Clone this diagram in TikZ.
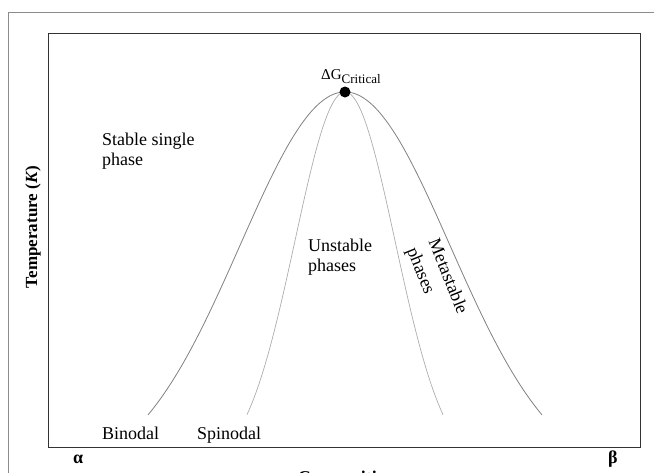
\documentclass[tikz,border=0pt]{standalone}
\usepackage{fontspec}
\setmainfont{Liberation Serif}
\begin{document}
\begin{tikzpicture}[x=1pt,y=-1pt,
  lbl/.style={inner sep=0pt, font=\fontsize{18}{20}\selectfont, align=left},
  boldlbl/.style={inner sep=0pt, font=\fontsize{18}{20}\selectfont\bfseries},
  binodal/.style={draw=black!50, line width=0.8pt},
  spinodal/.style={draw=black!32, line width=0.7pt}]
\useasboundingbox (0,0) rectangle (654,472);
\begin{scope}
\clip (0,0) rectangle (654,472);
% outer frame
\draw[black!45, line width=1pt] (8.5,480) -- (8.5,12.5) -- (660,12.5);
% inner frame
\draw[black!80, line width=1pt] (48.5,33.5) rectangle (640.5,447.5);
% curves
\draw[binodal] plot[domain=-197:197, samples=120, smooth] ({345+\x},{92+390*(1-exp(-0.5*(\x/105)^2))});
\draw[spinodal] plot[domain=-98:98, samples=100, smooth] ({345+\x},{92+378*(1-exp(-0.5*(\x/50)^2))});
\fill[black] (345,92) circle (5.5);
\node (crit) [inner sep=0pt, anchor=base west, font=\fontsize{15}{16}\selectfont] at (321,79) {ΔG\textsubscript{\fontsize{13}{14}\selectfont Critical}};
% labels
\node (stable) [lbl, anchor=base west] at (102,165) {Stable single\\phase};
\node (unstable) [lbl, anchor=base west] at (308,271) {Unstable\\phases};
\node (meta) [lbl, font=\fontsize{18}{23}\selectfont, anchor=north west, rotate=-68] at (440,237) {Metastable\\phases};
\node (bin) [lbl, anchor=base west] at (102,439) {Binodal};
\node (spin) [lbl, anchor=base west] at (197,439) {Spinodal};
\node (alpha) [boldlbl, anchor=base west] at (73,463) {α};
\node (beta) [boldlbl, anchor=base west] at (608,463) {β};
\node (comp) [boldlbl, anchor=base] at (347,483) {Composition};
\node (temp) [inner sep=0pt, rotate=90, font=\fontsize{17}{20}\selectfont\bfseries] at (33,227) {Temperature (\textit{K})};
\end{scope}
\end{tikzpicture}
\end{document}
